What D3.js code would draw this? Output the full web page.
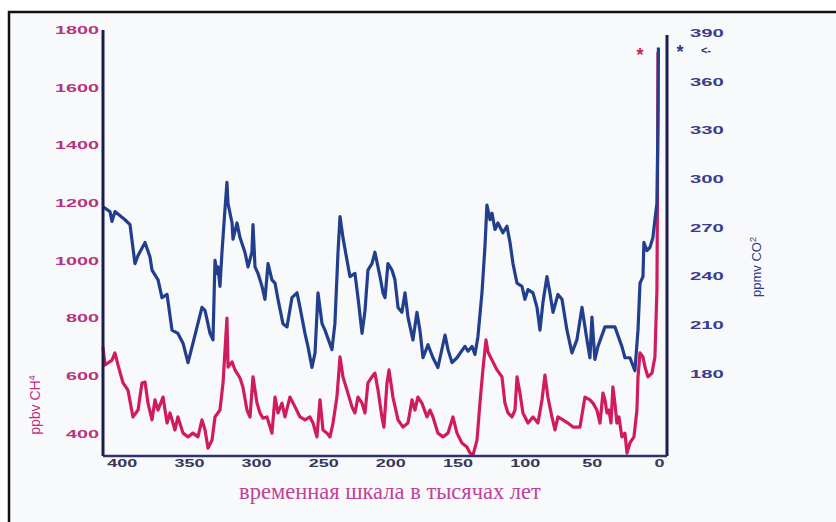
<!DOCTYPE html>
<html>
<head>
<meta charset="utf-8">
<script src="https://cdn.jsdelivr.net/npm/d3@7"></script>
<style>
  html, body { margin: 0; padding: 0; background: #ffffff; }
  svg { display: block; }
</style>
</head>
<body>
<svg id="chart" width="836" height="522"></svg>
<script>
// Tick labels
const xTicks = [400, 350, 300, 250, 200, 150, 100, 50, 0];
const ch4Ticks = [400, 600, 800, 1000, 1200, 1400, 1600, 1800];
const co2Ticks = [180, 210, 240, 270, 300, 330, 360, 390];

// CO2 record: age (thousand years before present) and concentration (ppmv)
const co2Age = [414.0,408.8,407.3,405.1,397.6,393.9,390.2,387.9,382.7,379.0,
  377.5,373.0,370.1,366.3,362.6,358.2,354.4,350.7,347.0,340.3,
  338.0,334.3,332.1,330.6,329.1,328.4,326.9,325.4,323.2,321.7,
  320.9,317.9,317.2,314.2,312.0,308.3,306.0,303.1,302.3,300.8,
  298.6,295.6,293.4,291.1,288.2,285.9,283.7,280.0,277.0,273.3,
  269.5,267.3,263.6,261.4,258.4,256.1,253.9,250.9,248.7,243.5,
  241.3,239.0,237.5,235.3,232.3,230.1,226.4,224.1,221.1,218.9,
  216.7,213.7,211.5,207.7,205.5,204.0,201.8,198.8,196.6,194.3,
  191.4,189.1,186.9,183.2,180.2,178.0,175.7,172.0,168.3,164.6,
  159.3,157.1,154.1,150.4,144.5,142.2,139.2,137.0,134.8,131.8,
  129.6,128.1,125.8,124.3,122.1,119.9,116.2,113.2,110.9,108.7,
  105.7,102.0,99.8,97.5,93.8,90.8,88.6,86.4,83.4,81.2,
  78.9,75.2,72.2,68.5,64.8,61.1,57.3,53.6,51.4,49.9,
  47.7,45.4,40.2,32.8,27.6,25.3,21.6,17.9,15.6,14.1,
  11.9,11.2,8.9,6.7,4.5,3.0,1.5,0.7,0.4];
const co2Ppmv = [283,280,274,280,275,272,248,253,261,252,
  244,238,227,229,207,205,199,187,199,221,
  219,205,201,250,242,246,234,255,281,298,
  285,273,263,273,264,255,246,255,272,246,
  242,234,226,248,238,236,226,211,209,227,
  230,221,205,197,184,193,230,211,207,195,
  211,255,277,264,250,240,242,227,205,219,
  244,248,255,240,230,227,248,244,238,221,
  218,230,215,201,218,207,190,198,190,184,
  204,195,187,190,197,194,197,192,203,230,
  258,284,275,279,269,273,267,271,261,248,
  236,234,226,232,230,221,207,224,240,230,
  218,229,226,207,193,201,221,201,190,215,
  189,197,209,209,197,190,190,182,207,236,
  240,261,256,258,264,275,285,336,381];

// CH4 record: age (thousand years before present) and concentration (ppbv)
const ch4Age = [414.0,412.5,410.3,407.3,405.1,402.8,399.1,395.4,391.7,387.9,
  385.0,382.7,380.5,377.5,375.3,373.0,369.3,366.3,364.1,360.4,
  358.2,354.4,350.7,347.0,343.3,340.3,338.0,335.8,332.8,330.6,
  326.9,324.6,321.7,320.9,317.9,315.7,312.0,309.8,306.8,304.5,
  302.3,299.3,297.1,294.9,291.9,288.2,285.9,283.7,280.7,278.5,
  274.8,271.0,267.3,263.6,259.9,257.6,254.7,252.4,250.2,247.2,
  245.0,242.7,239.8,237.5,235.3,232.3,228.6,226.4,224.1,221.1,
  218.9,216.7,213.7,211.5,209.2,206.3,204.8,202.5,201.0,198.1,
  194.3,190.6,186.9,183.9,181.7,179.5,176.5,172.7,170.5,168.3,
  164.6,160.8,157.1,153.4,150.4,146.7,143.0,140.7,138.5,135.5,
  133.3,131.1,128.8,127.3,124.3,120.6,116.9,114.7,112.4,109.5,
  107.2,105.7,103.5,101.3,97.5,93.8,90.1,87.1,84.9,82.7,
  79.7,77.4,75.2,71.5,67.8,64.0,58.8,55.1,51.4,49.1,
  46.2,43.9,41.7,40.2,38.7,37.2,35.7,34.3,32.8,31.3,
  29.8,27.6,25.3,23.8,21.6,18.6,16.4,15.6,14.1,11.9,
  10.4,8.2,5.2,3.0,1.5,1.1,0.7];
const ch4Ppbv = [701,639,646,656,681,639,577,552,459,483,
  577,580,507,449,518,483,528,438,473,414,
  459,403,390,403,390,449,414,351,379,459,
  483,577,802,632,650,622,594,563,483,459,
  598,507,473,455,459,403,528,473,507,459,
  528,494,459,449,459,438,390,518,414,403,
  390,438,528,667,598,552,494,473,528,507,
  473,577,598,611,552,459,424,577,622,528,
  449,424,438,518,483,528,507,459,483,459,
  403,390,403,459,403,369,355,334,327,379,
  507,622,726,684,656,622,598,507,473,459,
  483,598,542,473,438,459,438,518,604,528,
  459,414,459,449,438,424,424,528,518,507,
  483,438,542,518,473,483,438,563,507,438,
  459,390,403,334,369,390,483,598,681,667,
  632,598,611,667,899,1211,1724];

const svg = d3.select("#chart");

// Framed panel
svg.append("rect")
  .attr("x", 9).attr("y", 12).attr("width", 900).attr("height", 600)
  .attr("fill", "#f8f9fa").attr("stroke", "#111").attr("stroke-width", 2.5);

// Scales: time runs right-to-left toward the present
const x = d3.scaleLinear().domain([414, -6]).range([103, 667]);
const yCh4 = d3.scaleLinear().domain([400, 1800]).range([434, 30]);
const yCo2 = d3.scaleLinear().domain([180, 390]).range([374, 33]);

const plotLeft = 103, plotRight = 667, plotBottom = 456;

// Series
const ch4Line = d3.line().x(d => x(d[0])).y(d => yCh4(d[1]));
const co2Line = d3.line().x(d => x(d[0])).y(d => yCo2(d[1]));

svg.append("path")
  .datum(d3.zip(ch4Age, ch4Ppbv))
  .attr("d", ch4Line)
  .attr("fill", "none").attr("stroke", "#d01c5c").attr("stroke-width", 3.2)
  .attr("stroke-linejoin", "round");

svg.append("path")
  .datum(d3.zip(co2Age, co2Ppmv))
  .attr("d", co2Line)
  .attr("fill", "none").attr("stroke", "#223f8e").attr("stroke-width", 3.2)
  .attr("stroke-linejoin", "round");

// Axis frame lines
const frame = svg.append("g").attr("stroke", "#1b1d4d").attr("stroke-width", 3);
frame.append("line").attr("x1", plotLeft).attr("x2", plotLeft).attr("y1", 30).attr("y2", plotBottom);
frame.append("line").attr("x1", plotRight).attr("x2", plotRight).attr("y1", 35).attr("y2", plotBottom);
frame.append("line").attr("x1", plotLeft).attr("x2", plotRight).attr("y1", plotBottom).attr("y2", plotBottom)
  .attr("stroke", "#2e3070").attr("stroke-width", 2.5);

const tickFont = "'Liberation Sans', Arial, sans-serif";
const fmt = d3.format("d");

function styleTicks(g, color, perChar) {
  g.select(".domain").remove();
  g.selectAll("text")
    .attr("fill", color)
    .style("font-family", tickFont)
    .style("font-size", "10.5px")
    .style("font-weight", "bold")
    .attr("textLength", d => fmt(d).length * perChar)
    .attr("lengthAdjust", "spacingAndGlyphs");
}

// CH4 axis (left)
svg.append("g")
  .attr("transform", `translate(${plotLeft},0)`)
  .call(d3.axisLeft(yCh4).tickValues(ch4Ticks).tickFormat(fmt).tickSize(0).tickPadding(4))
  .call(g => styleTicks(g, "#b8337f", 11));

// CO2 axis (right)
svg.append("g")
  .attr("transform", `translate(${plotRight},0)`)
  .call(d3.axisRight(yCo2).tickValues(co2Ticks).tickFormat(fmt).tickSize(0).tickPadding(23))
  .call(g => styleTicks(g, "#3a3c8c", 11.3));

// Time axis (bottom)
svg.append("g")
  .attr("transform", `translate(0,${plotBottom})`)
  .call(d3.axisBottom(x).tickValues(xTicks).tickFormat(fmt).tickSize(0).tickPadding(4))
  .call(g => styleTicks(g, "#34365a", 10));

// Axis titles
const ch4Title = svg.append("text")
  .attr("transform", "translate(40,405) rotate(-90)")
  .attr("text-anchor", "middle")
  .attr("fill", "#c0307f")
  .style("font-family", tickFont)
  .style("font-size", "14px");
ch4Title.append("tspan").text("ppbv CH");
ch4Title.append("tspan").attr("baseline-shift", "super").style("font-size", "9px").text("4");

const co2Title = svg.append("text")
  .attr("transform", "translate(761,267) rotate(-90)")
  .attr("text-anchor", "middle")
  .attr("fill", "#2c3a8c")
  .style("font-family", tickFont)
  .style("font-size", "13px");
co2Title.append("tspan").text("ppmv CO");
co2Title.append("tspan").attr("baseline-shift", "super").style("font-size", "9px").text("2");

svg.append("text")
  .attr("x", 390).attr("y", 499)
  .attr("text-anchor", "middle")
  .attr("fill", "#c0429a")
  .style("font-family", "'Liberation Serif', 'Times New Roman', serif")
  .style("font-size", "22.5px")
  .text("временная шкала в тысячах лет");

// Present-day markers at the end of each record
const lastCh4 = ch4Ppbv[ch4Ppbv.length - 1];
const lastCo2 = co2Ppmv[co2Ppmv.length - 1];
const starSize = 18;
svg.append("text")
  .attr("x", x(0) - 19).attr("y", yCh4(lastCh4) + starSize * 0.5)
  .attr("text-anchor", "middle").attr("fill", "#d01c5c")
  .style("font-family", tickFont).style("font-size", starSize + "px").style("font-weight", "bold")
  .text("*");
svg.append("text")
  .attr("x", x(0) + 21).attr("y", yCo2(lastCo2) + starSize * 0.6)
  .attr("text-anchor", "middle").attr("fill", "#223f8e")
  .style("font-family", tickFont).style("font-size", starSize + "px").style("font-weight", "bold")
  .text("*");
svg.append("text")
  .attr("x", x(0) + 42).attr("y", yCo2(lastCo2) + 6)
  .attr("fill", "#2c2f5e")
  .style("font-family", tickFont).style("font-size", "11px").style("font-weight", "bold")
  .text("<-");
</script>
</body>
</html>
